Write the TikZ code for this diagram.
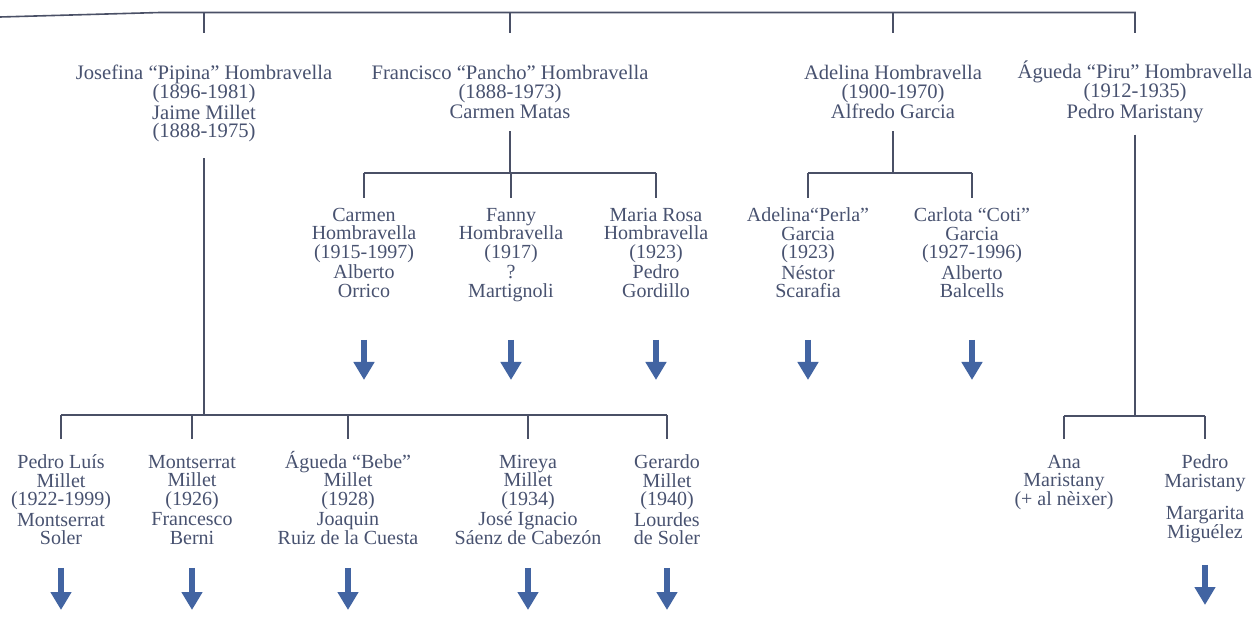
\documentclass[tikz,border=0pt]{standalone}
\usepackage{fontspec}
\setmainfont{Liberation Serif}
\usetikzlibrary{arrows.meta,positioning}
\definecolor{inkblue}{RGB}{72,82,112}
\definecolor{linegray}{RGB}{74,80,102}
\definecolor{arrowblue}{RGB}{66,100,162}
\setlength{\lineskiplimit}{-5pt}

\begin{document}
\begin{tikzpicture}[x=0.5pt,y=-0.5pt,every node/.style={align=center,anchor=north,inner sep=0,outer sep=0,text=inkblue,font=\fontsize{10}{9.25}\selectfont},
elders/.style={font=\fontsize{10.3}{9.4}\selectfont},
famline/.style={draw=linegray,line width=0.8pt},
drop/.style={famline,shorten >=#1},
rise/.style={famline,shorten <=#1},
descend/.style={draw=arrowblue,line width=3.4pt,-{Triangle[width=10pt,length=9pt]}}]

\fill[white] (0,0) rectangle (1260,620);
\useasboundingbox (0,0) rectangle (1260,620);

% first generation
\node[elders] (josefina) at (204,65) {Josefina “Pipina” Hombravella\\(1896-1981)\\[1pt]Jaime Millet\\(1888-1975)};
\node[elders] (francisco) at (510,65) {Francisco “Pancho” Hombravella\\(1888-1973)\\[1pt]Carmen Matas};
\node[elders] (adelina) at (893,65) {Adelina Hombravella\\(1900-1970)\\[1pt]Alfredo Garcia};
\node[elders] (agueda) at (1135,61) {Águeda “Piru” Hombravella\\(1912-1935)\\[1pt]Pedro Maristany};

% children of Francisco and Adelina
\node (carmen) at (364,208) {Carmen\\Hombravella\\(1915-1997)\\[1pt]Alberto\\Orrico};
\node (fanny) at (511,208) {Fanny\\Hombravella\\(1917)\\[1pt]?\\Martignoli};
\node (mariarosa) at (656,208) {Maria Rosa\\Hombravella\\(1923)\\[1pt]Pedro\\Gordillo};
\node (perla) at (808,208) {Adelina“Perla”\\Garcia\\(1923)\\[1pt]Néstor\\Scarafia};
\node (coti) at (972,208) {Carlota “Coti”\\Garcia\\(1927-1996)\\[1pt]Alberto\\Balcells};

% children of Josefina and Agueda
\node (pedroluis) at (61,455) {Pedro Luís\\Millet\\(1922-1999)\\[1pt]Montserrat\\Soler};
\node (montserrat) at (192,455) {Montserrat\\Millet\\(1926)\\[1pt]Francesco\\Berni};
\node (bebe) at (348,451) {Águeda “Bebe”\\Millet\\(1928)\\[1pt]Joaquin\\Ruiz de la Cuesta};
\node (mireya) at (528,455) {Mireya\\Millet\\(1934)\\[1pt]José Ignacio\\Sáenz de Cabezón};
\node (gerardo) at (667,455) {Gerardo\\Millet\\(1940)\\[1pt]Lourdes\\de Soler};
\node (ana) at (1064,455) {Ana\\Maristany\\(+ al nèixer)};
\node (pedro) at (1205,455) {Pedro\\Maristany\\[7pt]Margarita\\Miguélez};

\coordinate (root) at (0,17);
\coordinate (topbus) at (160,12.5);
\coordinate (franbus) at (0,173);
\coordinate (adebus) at (0,173);
\coordinate (josebus) at (0,415);
\coordinate (aguebus) at (0,416);
\coordinate (kidrow) at (0,340);
\coordinate (grandrow) at (0,568);

% top line
\path[famline,shorten >=16pt] (root) -- (topbus) -| ([yshift=-2pt]agueda.north);
    \path[drop=16pt] (josefina.north |- topbus) -- (josefina.north);
    \path[drop=16pt] (francisco.north |- topbus) -- (francisco.north);
    \path[drop=16pt] (adelina.north |- topbus) -- (adelina.north);

% Francisco
\path[rise=6pt] (francisco.south) -- (francisco.south |- franbus);
  \path[famline] (carmen.north |- franbus) -- (mariarosa.north |- franbus);
    \path[drop=5pt] (carmen.north |- franbus) -- (carmen.north);
    \path[drop=5pt] (fanny.north |- franbus) -- (fanny.north);
    \path[drop=5pt] (mariarosa.north |- franbus) -- (mariarosa.north);

% Adelina
\path[rise=6pt] (adelina.south) -- (adelina.south |- adebus);
  \path[famline] (perla.north |- adebus) -- (coti.north |- adebus);
    \path[drop=5pt] (perla.north |- adebus) -- (perla.north);
    \path[drop=5pt] (coti.north |- adebus) -- (coti.north);

% Josefina
\path[rise=8pt] (josefina.south) -- (josefina.south |- josebus);
  \path[famline] (pedroluis.north |- josebus) -- (gerardo.north |- josebus);
    \path[drop=8pt] (pedroluis.north |- josebus) -- (pedroluis.north);
    \path[drop=8pt] (montserrat.north |- josebus) -- (montserrat.north);
    \path[drop=6pt] (bebe.north |- josebus) -- (bebe.north);
    \path[drop=8pt] (mireya.north |- josebus) -- (mireya.north);
    \path[drop=8pt] (gerardo.north |- josebus) -- (gerardo.north);

% Agueda
\path[rise=6pt] (agueda.south) -- (agueda.south |- aguebus);
  \path[famline] (ana.north |- aguebus) -- (pedro.north |- aguebus);
    \path[drop=8pt] (ana.north |- aguebus) -- (ana.north);
    \path[drop=8pt] (pedro.north |- aguebus) -- (pedro.north);

% descendants
\foreach \kid in {carmen,fanny,mariarosa,perla,coti}
  \path[descend] (\kid |- kidrow) -- ++(0,40);
\foreach \kid in {pedroluis,montserrat,bebe,mireya,gerardo}
  \path[descend] (\kid |- grandrow) -- ++(0,42);
\path[descend] (pedro |- grandrow) ++(0,-3) -- ++(0,40);

\end{tikzpicture}
\end{document}
